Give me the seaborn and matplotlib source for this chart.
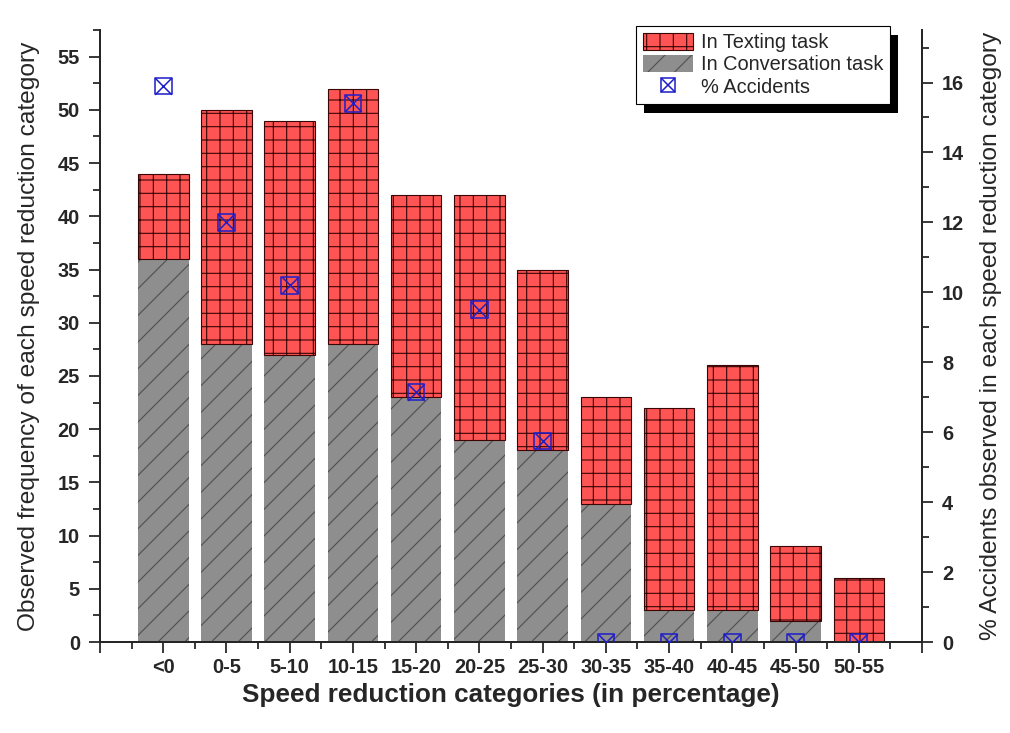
import numpy as np
import pandas as pd
import seaborn as sns
import matplotlib.pyplot as plt
from matplotlib.patches import Patch, Rectangle
from matplotlib.lines import Line2D
from matplotlib.ticker import MultipleLocator
from matplotlib.transforms import IdentityTransform

# speed reduction categories (%)
categories = ['<0', '0-5', '5-10', '10-15', '15-20', '20-25',
              '25-30', '30-35', '35-40', '40-45', '45-50', '50-55']
# frequency in conversation task (grey, bottom)
conversation = [36, 28, 27, 28, 23, 19, 18, 13, 3, 3, 2, 0]
# frequency in texting task (red, stacked on top)
texting = [8, 22, 22, 24, 19, 23, 17, 10, 19, 23, 7, 6]
# % accidents (right axis)
accidents = [15.9, 12.0, 10.2, 15.4, 7.15, 9.5, 5.75, 0, 0, 0, 0, 0]

sns.set_style('ticks')
plt.rcParams['font.family'] = ['Liberation Sans', 'DejaVu Sans']
plt.rcParams['hatch.linewidth'] = 1.0

df = pd.DataFrame({'cat': categories, 'conv': conversation,
                   'text': texting, 'acc': accidents})

RED = '#ff5454'
GREY = '#8e8e8e'
BLUE = '#1f1fc8'

fig = plt.figure(figsize=(12.625, 9.1625), dpi=80)
ax = fig.add_axes([0.099, 0.1241, 0.8139, 0.8349])

sns.barplot(data=df, x='cat', y='conv', color=GREY, saturation=1, width=0.8,
            edgecolor='#505050', linewidth=0, hatch='/', errorbar=None, ax=ax)
sns.barplot(data=df, x='cat', y='text', bottom=df['conv'].values, color=RED,
            saturation=1, width=0.8, edgecolor='#3a0505', linewidth=1.0,
            hatch='+', errorbar=None, ax=ax)

ax2 = ax.twinx()
sns.scatterplot(data=df, x='cat', y='acc', marker='s', s=15**2,
                facecolor='none', edgecolor=BLUE, linewidth=1.4, ax=ax2, zorder=3)
sns.scatterplot(data=df, x='cat', y='acc', marker='x', s=15**2,
                color=BLUE, linewidth=1.4, ax=ax2, zorder=3)

# axes limits and ticks
ax.set_xlim(-1, 12)
ax.set_xticks(range(-1, 13))
ax.set_xticklabels([''] + categories + [''])
ax.xaxis.set_minor_locator(MultipleLocator(0.5))
ax.set_ylim(0, 57.5)
ax.set_yticks(np.arange(0, 56, 5))
ax.yaxis.set_minor_locator(MultipleLocator(2.5))
ax2.set_ylim(0, 17.5)
ax2.set_yticks(np.arange(0, 17, 2))
ax2.yaxis.set_minor_locator(MultipleLocator(1))

for a in (ax, ax2):
    a.tick_params(which='major', direction='out', length=10, width=1.6,
                  labelsize=18, pad=8)
    a.tick_params(which='minor', direction='out', length=6.5, width=1.6)
    a.spines['top'].set_visible(False)
    for s in a.spines.values():
        s.set_linewidth(1.8)
ax.tick_params(axis='x', which='major', pad=4)
ax.spines['right'].set_visible(False)
plt.setp(ax.get_xticklabels(), fontweight='bold')
plt.setp(ax.get_yticklabels(), fontweight='bold')
plt.setp(ax2.get_yticklabels(), fontweight='bold')

ax.set_xlabel('Speed reduction categories (in percentage)', fontsize=23.5,
              fontweight='bold', labelpad=6)
ax.set_ylabel('Observed frequency of each speed reduction category', fontsize=22,
              labelpad=16)
ax2.set_ylabel('% Accidents observed in each speed reduction category', fontsize=22,
               labelpad=14)

# legend
h_text = Patch(facecolor=RED, edgecolor='#3a0505', hatch='+', linewidth=1.0)
h_conv = Patch(facecolor=GREY, edgecolor='#505050', hatch='/', linewidth=0)
h_sq = Line2D([], [], marker='s', ms=12, mfc='none', mec=BLUE, mew=1.4, ls='none')
h_x = Line2D([], [], marker='x', ms=12, color=BLUE, mew=1.4, ls='none')
leg = ax2.legend([h_text, h_conv, (h_sq, h_x)],
                 ['In Texting task', 'In Conversation task', '% Accidents'],
                 loc='upper right', bbox_to_anchor=(890 / 1010, 1 - 26 / 733),
                 bbox_transform=fig.transFigure, fontsize=18, frameon=True,
                 fancybox=False, framealpha=1, edgecolor='black',
                 handlelength=2.5, handleheight=0.9, handletextpad=0.4,
                 labelspacing=0.15, borderpad=0.35, borderaxespad=0)
leg.get_frame().set_linewidth(1.0)
leg.set_zorder(10)

fig.canvas.draw()
bb = leg.get_window_extent()
shadow = Rectangle((bb.x0 + 8, bb.y0 - 9), bb.width, bb.height,
                   transform=IdentityTransform(), facecolor='black',
                   edgecolor='none', zorder=9, clip_on=False)
ax2.add_artist(shadow)

fig.savefig('out.png', dpi=80)
